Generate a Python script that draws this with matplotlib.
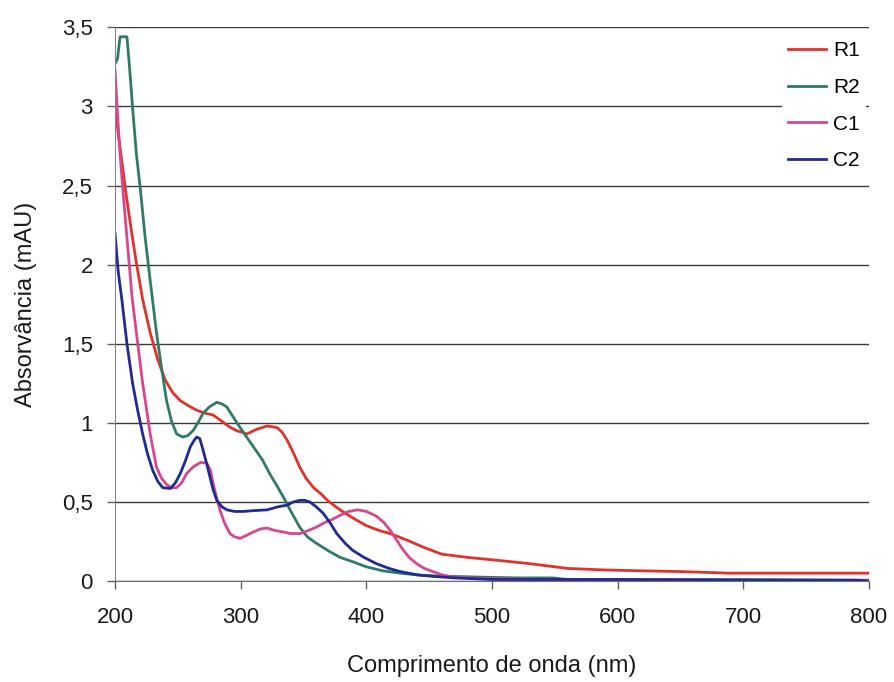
import matplotlib
matplotlib.use("Agg")
import matplotlib.pyplot as plt
from matplotlib.ticker import FuncFormatter

plt.rcParams['font.family'] = ['Liberation Sans', 'DejaVu Sans']

# Absorbance spectra (wavelength in nm, absorbance in mAU)
r1_wl = [200, 203, 206, 208, 212, 217, 222, 228, 234, 240, 246, 252, 258, 265, 272,
         278, 285, 292, 297, 305, 313, 321, 329, 333, 337, 342, 347, 352, 358, 364,
         369, 379, 389, 400, 410, 419, 432, 445, 460, 480, 506, 530, 560, 590, 618,
         650, 689, 720, 760, 800]
r1_abs = [3.00, 2.80, 2.62, 2.49, 2.27, 2.01, 1.78, 1.57, 1.40, 1.27, 1.19, 1.14, 1.11,
          1.08, 1.06, 1.05, 1.01, 0.97, 0.95, 0.93, 0.96, 0.98, 0.97, 0.94, 0.89, 0.81,
          0.72, 0.65, 0.59, 0.55, 0.51, 0.45, 0.40, 0.35, 0.32, 0.30, 0.26, 0.215, 0.17,
          0.15, 0.13, 0.11, 0.08, 0.07, 0.065, 0.06, 0.05, 0.05, 0.05, 0.05]

r2_wl = [200, 202, 204, 206, 209.5, 211, 212.5, 214, 217, 220, 224, 228, 233, 237, 241,
         245, 249, 254, 258, 262, 266, 270, 275, 281, 285, 289, 297, 303, 310, 317, 323,
         329, 334, 340, 347, 353, 360, 370, 379, 390, 400, 413, 427, 445, 466, 490, 520,
         548, 560, 600, 700, 800]
r2_abs = [3.27, 3.30, 3.44, 3.44, 3.44, 3.30, 3.15, 2.99, 2.70, 2.49, 2.17, 1.90, 1.57,
          1.35, 1.14, 1.01, 0.93, 0.91, 0.92, 0.95, 1.00, 1.06, 1.10, 1.13, 1.12, 1.10,
          1.00, 0.93, 0.85, 0.77, 0.68, 0.60, 0.53, 0.44, 0.34, 0.28, 0.24, 0.19, 0.15,
          0.12, 0.09, 0.065, 0.05, 0.035, 0.03, 0.025, 0.02, 0.02, 0.01, 0.01, 0.01, 0.005]

c1_wl = [200, 202, 204, 206.5, 209.5, 213.5, 217, 222, 228, 233, 237, 241, 245, 249, 253,
         257, 262, 268, 273, 276, 278, 281, 283.5, 287, 291.5, 295, 299.5, 305, 310, 316,
         321, 327, 334, 340, 347, 354, 360, 367, 373, 379, 386, 393, 400, 408, 414, 419,
         424, 429, 434, 440, 446, 453, 460, 466, 480, 500, 550, 600, 700, 800]
c1_abs = [3.23, 2.95, 2.70, 2.45, 2.17, 1.80, 1.57, 1.25, 0.93, 0.72, 0.65, 0.61, 0.59,
          0.59, 0.62, 0.68, 0.72, 0.75, 0.745, 0.70, 0.62, 0.52, 0.45, 0.37, 0.30, 0.28,
          0.27, 0.29, 0.31, 0.33, 0.335, 0.32, 0.31, 0.30, 0.30, 0.32, 0.34, 0.37, 0.39,
          0.415, 0.44, 0.45, 0.44, 0.41, 0.37, 0.32, 0.26, 0.20, 0.15, 0.11, 0.08, 0.06,
          0.04, 0.03, 0.02, 0.015, 0.01, 0.01, 0.005, 0.005]

c2_wl = [200, 202.5, 205.5, 209.5, 214, 218, 222, 226, 230, 234, 238, 244, 248, 252, 256,
         260, 263, 265, 267.5, 270, 273, 275.5, 278, 281, 285, 289, 295, 302, 310, 321,
         330, 337, 342, 347, 351, 355, 360, 365.5, 371, 376.5, 383, 389, 398, 408, 418,
         427, 440, 453, 470, 500, 600, 700, 790, 800]
c2_abs = [2.20, 1.96, 1.775, 1.50, 1.25, 1.08, 0.93, 0.80, 0.70, 0.63, 0.59, 0.585, 0.62,
          0.68, 0.76, 0.85, 0.89, 0.91, 0.90, 0.83, 0.74, 0.66, 0.58, 0.51, 0.47, 0.45,
          0.44, 0.44, 0.445, 0.45, 0.47, 0.48, 0.50, 0.51, 0.51, 0.50, 0.47, 0.43, 0.37,
          0.30, 0.24, 0.195, 0.15, 0.11, 0.08, 0.06, 0.04, 0.03, 0.02, 0.01, 0.01, 0.005,
          0.005, 0.0]

series = [
    ("R1", r1_wl, r1_abs, "#e2312b"),
    ("R2", r2_wl, r2_abs, "#2f7b66"),
    ("C1", c1_wl, c1_abs, "#d9468f"),
    ("C2", c2_wl, c2_abs, "#1f2b93"),
]

x_ticks = [200, 300, 400, 500, 600, 700, 800]
y_ticks = [0, 0.5, 1, 1.5, 2, 2.5, 3, 3.5]

fig = plt.figure(figsize=(8.95, 6.82), dpi=100)
ax = fig.add_axes([0.1285, 0.148, 0.971 - 0.1285, 0.960 - 0.148])

for name, wl, ab, col in series:
    ax.plot(wl, ab, color=col, lw=2.0, label=name, solid_joinstyle="round")

ax.set_xlim(200, 800)
ax.set_ylim(0, 3.5)
ax.set_xticks(x_ticks)
ax.set_yticks(y_ticks)

def comma(v, pos):
    return f"{v:g}".replace(".", ",")

ax.yaxis.set_major_formatter(FuncFormatter(comma))
ax.xaxis.set_major_formatter(FuncFormatter(comma))

ax.grid(axis="y", color="#3a3a3a", lw=1.0)
ax.set_axisbelow(True)
for s in ("top", "right"):
    ax.spines[s].set_visible(False)
ax.spines["left"].set_color("#8a8090")
ax.spines["bottom"].set_color("#707070")
ax.tick_params(axis="both", direction="out", length=6, width=1.0, colors="#606060",
               labelcolor="#1a1a1a", labelsize=16)
ax.tick_params(axis="x", pad=13)
ax.tick_params(axis="y", pad=10)

ax.set_xlabel("Comprimento de onda (nm)", fontsize=17, color="#1a1a1a", labelpad=19)
ax.set_ylabel("Absorvância (mAU)", fontsize=17, color="#1a1a1a", labelpad=18)

leg = ax.legend(loc="upper right", bbox_to_anchor=(1.01, 1.005), frameon=True,
                fontsize=15, handlelength=1.8, handletextpad=0.35, labelspacing=0.85,
                borderpad=0.3)
leg.get_frame().set_facecolor("white")
leg.get_frame().set_edgecolor("none")
leg.get_frame().set_alpha(1.0)

fig.savefig("out.png", dpi=100, facecolor="white")
